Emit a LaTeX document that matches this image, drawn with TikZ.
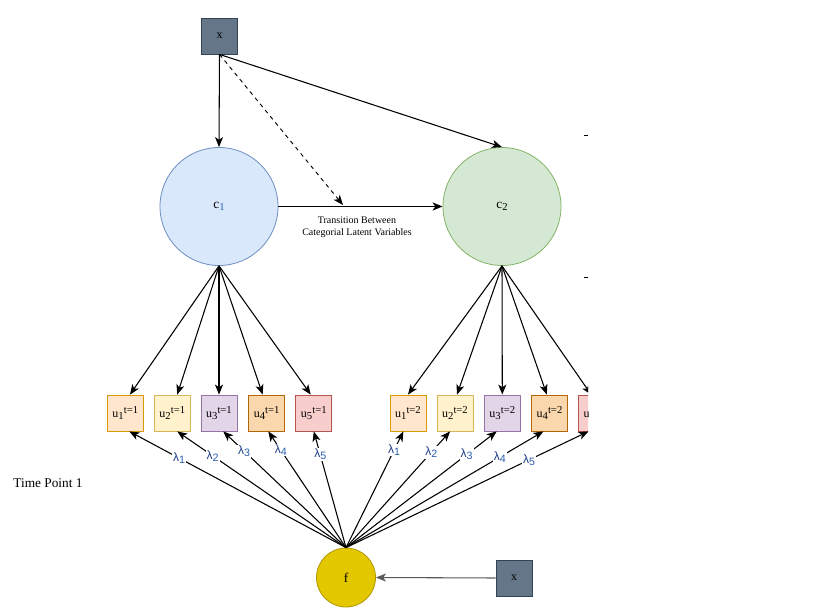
\documentclass[tikz,border=0pt]{standalone}
\usepackage{fontspec}
\setmainfont{Liberation Serif}
\setsansfont{Liberation Sans}
\usetikzlibrary{arrows.meta}
\definecolor{xfill}{HTML}{647687}
\definecolor{xline}{HTML}{314354}
\definecolor{cafill}{HTML}{DAE8FC}
\definecolor{caline}{HTML}{6C8EBF}
\definecolor{cbfill}{HTML}{D5E8D4}
\definecolor{cbline}{HTML}{82B366}
\definecolor{ffill}{HTML}{E3C800}
\definecolor{fline}{HTML}{B09500}
\definecolor{uafill}{HTML}{FFE6CC}
\definecolor{ualine}{HTML}{D79B00}
\definecolor{ubfill}{HTML}{FFF2CC}
\definecolor{ubline}{HTML}{D6B656}
\definecolor{ucfill}{HTML}{E1D5E7}
\definecolor{ucline}{HTML}{9673A6}
\definecolor{udfill}{HTML}{FAD7AC}
\definecolor{udline}{HTML}{B46504}
\definecolor{uefill}{HTML}{F8CECC}
\definecolor{ueline}{HTML}{B85450}
\definecolor{lamblue}{HTML}{1F3C88}
\definecolor{subblue}{HTML}{2A5DB0}
% draw.io style sub and sup
\newcommand{\dsub}[1]{\raisebox{-0.3ex}{\fontsize{8}{8}\selectfont #1}}
\newcommand{\dsup}[1]{\raisebox{0.7ex}{\fontsize{8}{8}\selectfont #1}}
\begin{document}
\begin{tikzpicture}[x=0.75pt,y=-0.75pt,->,
    >={Stealth[length=7.5pt,width=6pt,inset=2pt]},
    line width=0.8pt,
    obs/.style={draw,line width=0.6pt,minimum size=27pt,inner sep=0pt,font=\fontsize{9}{10}\selectfont},
    lat/.style={draw,circle,line width=0.6pt,inner sep=0pt,font=\fontsize{10}{12}\selectfont},
    lam/.style={fill=white,inner sep=0.8pt,text=lamblue,font=\sffamily\fontsize{9}{10}\selectfont}]
  \useasboundingbox (0,0) rectangle (827,616);
  \begin{scope}
    \clip (0,0) rectangle (588,616);
    \node[obs,fill=xfill,draw=xline] (x1) at (219.5,36) {x};
    \node[lat,minimum size=88.5pt,fill=cafill,draw=caline] (c1) at (219,206.5) {c\dsub{\color{subblue}1}};
    \node[lat,minimum size=88.5pt,fill=cbfill,draw=cbline] (c2) at (502,206.5) {c\dsub{2}};
    \node[lat,minimum size=44.25pt,fill=ffill,draw=fline] (f) at (346,577.5) {f};
    \node[obs,fill=xfill,draw=xline] (x2) at (514,578) {x};
    \coordinate (tr) at (343,205);
    \node[fill=white,inner sep=1pt,align=center,font=\fontsize{7.5}{9}\selectfont] (lbl) at (357,227) {Transition Between\\Categorial Latent Variables};
    \node[font=\fontsize{10}{12}\selectfont] (tp) at (48,483) {Time Point 1};
    % time point 1
    \node[obs,fill=uafill,draw=ualine] (u11) at (125.3,413) {u\dsub{1}\dsup{t=1}};
    \node[obs,fill=ubfill,draw=ubline] (u21) at (172.3,413) {u\dsub{2}\dsup{t=1}};
    \node[obs,fill=ucfill,draw=ucline] (u31) at (219,413) {u\dsub{3}\dsup{t=1}};
    \node[obs,fill=udfill,draw=udline] (u41) at (266.7,413) {u\dsub{4}\dsup{t=1}};
    \node[obs,fill=uefill,draw=ueline] (u51) at (313.8,413) {u\dsub{5}\dsup{t=1}};
    % time point 2
    \node[obs,fill=uafill,draw=ualine] (u12) at (408,413) {u\dsub{1}\dsup{t=2}};
    \node[obs,fill=ubfill,draw=ubline] (u22) at (455,413) {u\dsub{2}\dsup{t=2}};
    \node[obs,fill=ucfill,draw=ucline] (u32) at (502.3,413) {u\dsub{3}\dsup{t=2}};
    \node[obs,fill=udfill,draw=udline] (u42) at (549.5,413) {u\dsub{4}\dsup{t=2}};
    \node[obs,fill=uefill,draw=ueline] (u52) at (596.5,413) {u\dsub{5}\dsup{t=2}};
    \draw (x1.south) -- (c1.north);
    \draw (x1.south) -- (c2.north);
    \draw[dashed,line width=0.7pt] (x1.south) -- (tr);
    \draw (c1.east) -- (c2.west);
    \draw[draw=black!65] (x2.west) -- (f.east);
    \draw (c1.south) -- ([xshift=3.5pt]u11.north);
    \draw (c1.south) -- ([xshift=3.7pt]u21.north);
    \draw (c1.south) -- (u31.north);
    \draw (c1.south) -- ([xshift=-3pt]u41.north);
    \draw (c1.south) -- ([xshift=-2.3pt]u51.north);
    \draw (c2.south) -- (u12.north);
    \draw (c2.south) -- ([xshift=1.5pt]u22.north);
    \draw (c2.south) -- (u32.north);
    \draw (c2.south) -- ([xshift=-2pt]u42.north);
    \draw (c2.south) -- ([xshift=-4pt]u52.north);
    \draw (f.north) -- node[lam,pos=0.77] {λ\dsub{\color{subblue}1}} ([xshift=3pt]u11.south);
    \draw (f.north) -- node[lam,pos=0.79] {λ\dsub{\color{subblue}2}} ([xshift=3.7pt]u21.south);
    \draw (f.north) -- node[lam,pos=0.83] {λ\dsub{\color{subblue}3}} ([xshift=3.2pt]u31.south);
    \draw (f.north) -- node[lam,pos=0.84] {λ\dsub{\color{subblue}4}} ([xshift=1.2pt]u41.south);
    \draw (f.north) -- node[lam,pos=0.8] {λ\dsub{\color{subblue}5}} (u51.south);
    \draw (f.north) -- node[lam,pos=0.84] {λ\dsub{\color{subblue}1}} ([xshift=-3.5pt]u12.south);
    \draw (f.north) -- node[lam,pos=0.82] {λ\dsub{\color{subblue}2}} ([xshift=-3.7pt]u22.south);
    \draw (f.north) -- node[lam,pos=0.8] {λ\dsub{\color{subblue}3}} ([xshift=-4.2pt]u32.south);
    \draw (f.north) -- node[lam,pos=0.78] {λ\dsub{\color{subblue}4}} ([xshift=-4.6pt]u42.south);
    \draw (f.north) -- node[lam,pos=0.755] {λ\dsub{\color{subblue}5}} ([xshift=-6pt]u52.south);
    \draw[-,line width=0.6pt] (584,135) -- (588,135);
    \draw[-,line width=0.6pt] (584,277) -- (588,277);
  \end{scope}
\end{tikzpicture}
\end{document}
